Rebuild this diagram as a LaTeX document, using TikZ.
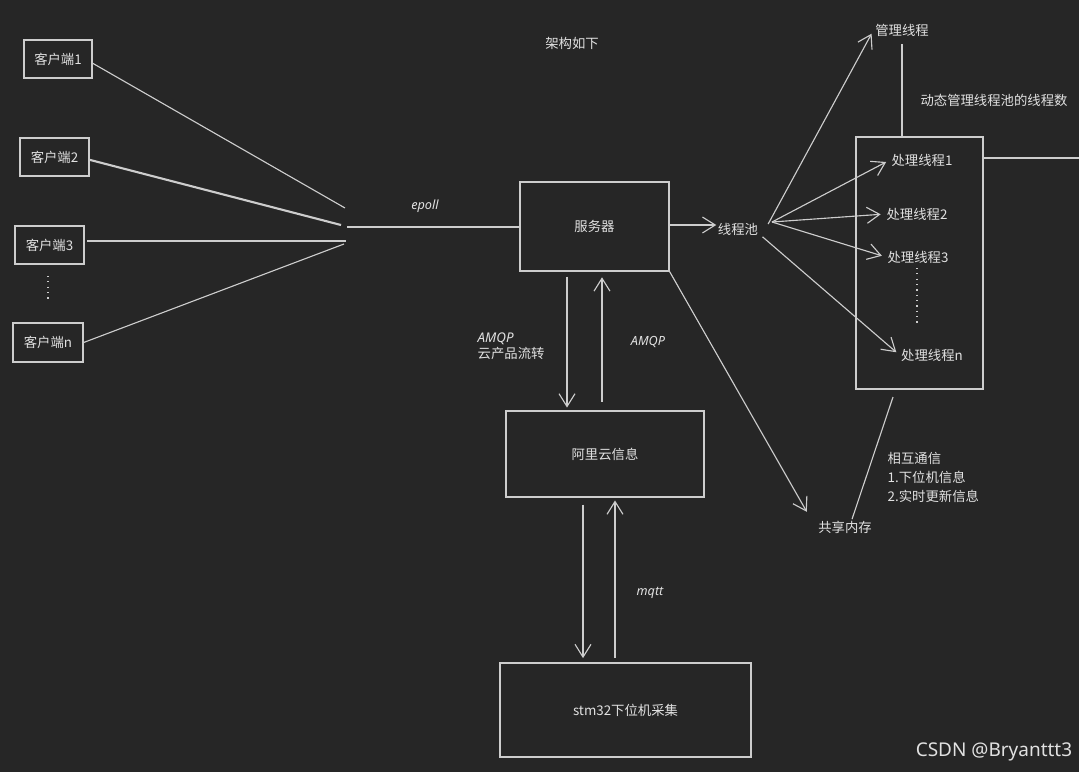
\documentclass[tikz,border=0pt]{standalone}
\usepackage{fontspec}
\setmainfont{Noto Sans CJK SC}
\newfontfamily\hand{Noto Sans}
\usetikzlibrary{arrows.meta}
\definecolor{bg}{RGB}{38,38,38}
\definecolor{ln}{RGB}{205,205,205}
\definecolor{tx}{RGB}{225,225,225}
\tikzset{
  box/.style={draw=ln, line width=0.9pt, inner sep=0pt, text=tx, font=\fontsize{9.5}{11}\selectfont},
  txt/.style={inner sep=1pt, text=tx, font=\fontsize{9.5}{11}\selectfont},
  htxt/.style={inner sep=1pt, text=tx, font=\fontsize{9}{11}\hand\itshape},
  ln/.style={draw=ln, line width=0.8pt},
  arr/.style={draw=ln, line width=0.8pt, -{Straight Barb[length=3.2mm,width=4mm,line width=0.8pt]}},
  dots/.style={draw=ln, line width=0.8pt, dash pattern=on 0.8pt off 3pt}
}
\begin{document}
\begin{tikzpicture}[x=0.025cm,y=-0.025cm]
\fill[bg] (0,0) rectangle (1079,772);
\useasboundingbox (0,0) rectangle (1079,772);

% clients
\node[box, minimum width=1.7cm, minimum height=0.95cm] (c1) at (58,59) {客户端1};
\node[box, minimum width=1.725cm, minimum height=0.95cm] (c2) at (54.5,157) {客户端2};
\node[box, minimum width=1.725cm, minimum height=0.95cm] (c3) at (49.5,245) {客户端3};
\node[box, minimum width=1.75cm, minimum height=0.975cm] (cn) at (48,342.5) {客户端n};
\coordinate (cd1) at (48,276);
\coordinate (cd2) at (48,301);
\draw[dots] (cd1) -- (cd2);

\coordinate (j1) at (345,208);
\coordinate (j2) at (341,225);
\coordinate (j3) at (346,241);
\coordinate (j4) at (344,244);
\coordinate (ej) at (347,227);
\draw[ln] ([yshift=-3pt]c1.east) -- (j1);
\draw[ln, line width=1.5pt] ([yshift=-2pt]c2.east) -- (j2);
\draw[ln] ([xshift=2pt]c3.east |- j3) -- (j3);
\draw[ln] (cn.east) -- (j4);

% server
\node[box, minimum width=3.725cm, minimum height=2.225cm] (srv) at (594.5,226.5) {服务器};
\draw[ln] (ej) -- (ej -| srv.west);
\node[htxt] (epoll) at (425,206) {epoll};
\node[txt] (title) at (572,43) {架构如下};

% thread pool
\node[txt] (pool) at (738,229) {线程池};
\draw[arr] (srv.east |- 0,225) -- (pool.west |- 0,225);
\node[txt] (mgr) at (902,30) {管理线程};
\draw[arr, shorten >=3pt] ([xshift=6pt,yshift=-2pt]pool.north east) -- (mgr.west);
\node[box, minimum width=3.175cm, minimum height=6.3cm] (tbox) at (919.5,263) {};
\draw[ln] (mgr.south) ++(0,6) -- (mgr.south |- tbox.north);
\node[txt] (dyn) at (994,100) {动态管理线程池的线程数};
\node[txt] (t1) at (922,160) {处理线程1};
\node[txt] (t2) at (917,214) {处理线程2};
\node[txt] (t3) at (918,257) {处理线程3};
\node[txt] (tn) at (932,355) {处理线程n};
\coordinate (td1) at (917,268);
\coordinate (td2) at (917,323);
\draw[dots] (td1) -- (td2);
\coordinate (redge) at (1079,158);
\draw[ln] (tbox.east |- redge) -- (redge);
\coordinate (ps) at (772,222);
\draw[arr, shorten >=3pt] (ps) -- (t1.west);
\draw[arr, shorten >=3pt] (ps) -- (t2.west);
\draw[arr, shorten >=3pt] (ps) -- (t3.west);
\draw[arr, shorten >=3pt] ([xshift=2pt]pool.south east) -- (tn.west);

% shared memory
\node[txt] (shm) at (845,527) {共享内存};
\draw[arr, shorten >=6pt] (srv.south east) -- ([xshift=-4pt]shm.north west);
\coordinate (b1) at (893,397);
\draw[ln] (b1) -- ([xshift=5pt]shm.north);
\node[txt, anchor=north west, align=left, font=\fontsize{9.5}{13.5}\selectfont] (comm) at (886,451) {相互通信\\1.下位机信息\\2.实时更新信息};

% aliyun
\node[box, minimum width=4.95cm, minimum height=2.15cm] (ali) at (605,454) {阿里云信息};
\coordinate (ax1) at (567,0);
\coordinate (ax2) at (602,0);
\draw[arr, shorten <=3.5pt, shorten >=2pt] (srv.south -| ax1) -- (ali.north -| ax1);
\draw[arr, shorten <=6pt, shorten >=4pt] (ali.north -| ax2) -- (srv.south -| ax2);
\node[txt, anchor=west, align=left] (amqp1) at (476,346) {{\hand\itshape AMQP}\\云产品流转};
\node[htxt] (amqp2) at (648,342) {AMQP};

% stm32
\node[box, minimum width=6.275cm, minimum height=2.35cm] (stm) at (625.5,710) {stm32下位机采集};
\coordinate (bx1) at (583,0);
\coordinate (bx2) at (615,0);
\draw[arr, shorten <=5pt, shorten >=3pt] (ali.south -| bx1) -- (stm.north -| bx1);
\draw[arr, shorten <=3pt, shorten >=2pt] (stm.north -| bx2) -- (ali.south -| bx2);
\node[htxt] (mqtt) at (650,593) {mqtt};

% watermark
\node[inner sep=0pt, text=tx, font=\fontsize{13.5}{15}\selectfont\hand] (wm) at (994,752) {CSDN @Bryanttt3};
\end{tikzpicture}
\end{document}
